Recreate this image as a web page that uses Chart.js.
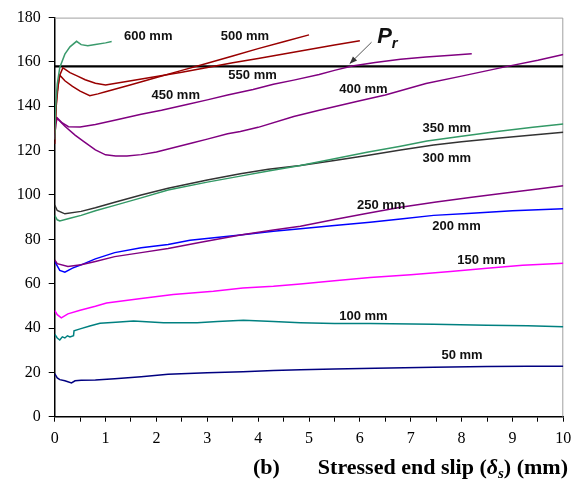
<!DOCTYPE html>
<html>
<head>
<meta charset="utf-8">
<script src="https://cdn.jsdelivr.net/npm/chart.js@4"></script>
<style>
  html, body { margin: 0; padding: 0; background: #ffffff; }
  canvas { display: block; }
</style>
</head>
<body>
<canvas id="c" width="580" height="495"></canvas>
<script>
// ---- data ----
const s600x = [0, 0.02, 0.05, 0.1, 0.2, 0.3, 0.43, 0.52, 0.65, 0.8, 1.0, 1.12];
const s600y = [125, 140, 150, 157.5, 163.5, 166.8, 169.3, 167.8, 167.3, 167.9, 168.6, 169.2];

const s550x = [0, 0.04, 0.1, 0.16, 0.2, 0.3, 0.45, 0.6, 0.8, 1.0, 1.5, 2.0, 2.5, 3.0, 3.5, 4.0, 4.5, 5.0, 5.5, 6.0];
const s550y = [128, 145, 154, 157.3, 156.8, 155.2, 153.6, 152.0, 150.4, 149.6, 151.5, 153.4, 155.4, 157.5, 159.6, 161.6, 163.6, 165.6, 167.6, 169.6];

const s500x = [0, 0.03, 0.07, 0.1, 0.2, 0.35, 0.5, 0.69, 0.85, 1.0, 1.5, 2.0, 2.5, 3.0, 3.5, 4.0, 4.5, 5.0];
const s500y = [123, 140, 150, 154, 151.5, 149, 146.8, 144.8, 145.6, 146.6, 149.7, 153, 156.2, 159.4, 162.7, 166, 169.1, 172.2];

const s450x = [0, 0.02, 0.05, 0.15, 0.27, 0.5, 0.8, 1.2, 1.7, 2.1, 2.6, 3.0, 3.4, 3.9, 4.3, 4.7, 5.2, 5.5, 5.85, 6.3, 6.8, 7.3, 7.8, 8.2];
const s450y = [125, 132, 134.7, 132.5, 130.8, 130.7, 131.8, 133.8, 136.4, 138.2, 140.8, 142.9, 145.1, 147.6, 149.9, 151.8, 154.3, 156.2, 158.2, 159.8, 161.2, 162.2, 163, 163.7];

const s400x = [0, 0.02, 0.04, 0.2, 0.4, 0.56, 0.8, 1.0, 1.2, 1.42, 1.7, 2.0, 2.33, 2.7, 3.0, 3.4, 3.65, 4.0, 4.7, 5.2, 6.0, 6.5, 7.3, 8.0, 8.9, 9.5, 10];
const s400y = [126, 132, 134.7, 131, 127, 124.3, 120.3, 118.1, 117.6, 117.6, 118.2, 119.4, 121.3, 123.4, 125.2, 127.6, 128.6, 130.5, 135.4, 138.2, 142.5, 145.1, 150.3, 153.6, 158, 160.8, 163.4];

const s350x = [0, 0.05, 0.1, 0.3, 0.52, 0.8, 1.18, 1.7, 2.23, 3.0, 3.65, 4.2, 4.83, 5.5, 6.14, 6.8, 7.32, 8.0, 8.7, 9.4, 10];
const s350y = [90.8, 88.8, 88.3, 89.5, 90.8, 92.9, 95.3, 98.7, 102.2, 105.8, 108.5, 110.8, 113.3, 116.3, 119.3, 122, 124.3, 126.5, 128.6, 130.5, 132];

const s300x = [0, 0.05, 0.2, 0.52, 0.8, 1.18, 1.7, 2.23, 3.0, 3.65, 4.2, 4.83, 5.5, 6.14, 6.8, 7.45, 8.0, 8.7, 9.4, 10];
const s300y = [95.5, 93, 91.5, 92.6, 94.2, 96.7, 100, 103, 106.8, 109.6, 111.6, 113.3, 115.6, 117.8, 120.3, 122.5, 124, 125.6, 127, 128.3];

const s250x = [0, 0.05, 0.26, 0.52, 0.8, 1.18, 1.7, 2.23, 2.9, 3.65, 4.3, 4.83, 5.5, 6.1, 6.8, 7.5, 8.2, 8.9, 9.5, 10];
const s250y = [70.7, 69, 67.7, 68.5, 70, 72.2, 74, 75.9, 78.8, 81.9, 84.2, 85.9, 88.9, 91.5, 94.5, 96.8, 99, 101, 102.7, 104.2];

const s200x = [0, 0.05, 0.1, 0.2, 0.35, 0.52, 0.8, 1.18, 1.7, 2.23, 2.66, 3.65, 4.3, 4.83, 5.5, 6.2, 6.8, 7.45, 8.2, 9, 10];
const s200y = [70, 68, 66, 65.2, 67, 68.5, 71.2, 74, 76.2, 77.7, 79.6, 81.9, 83.6, 84.8, 86.2, 87.7, 89.2, 90.8, 91.8, 92.9, 93.8];

const s150x = [0, 0.05, 0.13, 0.26, 0.5, 0.8, 1.02, 1.7, 2.33, 3.12, 3.7, 4.3, 4.83, 5.5, 6.2, 7.0, 7.78, 8.5, 9.2, 10];
const s150y = [47.9, 46, 44.6, 46.4, 48, 49.8, 51.3, 53.3, 55.1, 56.6, 58, 58.8, 59.8, 61.3, 62.8, 64, 65.5, 67, 68.3, 69.2];

const s100x = [0, 0.05, 0.1, 0.15, 0.2, 0.25, 0.3, 0.37, 0.38, 0.5, 0.69, 0.89, 1.2, 1.55, 2.14, 2.8, 3.2, 3.71, 4.3, 4.83, 5.5, 6.2, 7.45, 8.5, 9.3, 10];
const s100y = [37.2, 35.5, 34.6, 36, 35.5, 36.5, 36, 36.5, 38.7, 39.6, 40.9, 42.1, 42.6, 43.2, 42.4, 42.4, 42.9, 43.5, 42.9, 42.4, 42, 42, 41.7, 41.3, 41, 40.6];

const s50x = [0, 0.05, 0.1, 0.2, 0.33, 0.4, 0.52, 0.8, 1.18, 1.7, 2.23, 3.0, 3.7, 4.3, 4.83, 5.5, 6.3, 7.45, 8.5, 9.3, 10];
const s50y = [19.4, 17.5, 16.7, 16.2, 15.2, 16.2, 16.4, 16.6, 17.1, 18, 19.1, 19.8, 20.3, 20.8, 21.2, 21.5, 21.9, 22.3, 22.6, 22.8, 22.8];

const prX = [0, 10];
const prY = [158, 158];

const seriesNames = ['600 mm', '550 mm', '500 mm', '450 mm', '400 mm', '350 mm', '300 mm', '250 mm', '200 mm', '150 mm', '100 mm', '50 mm'];
const seriesX = [s600x, s550x, s500x, s450x, s400x, s350x, s300x, s250x, s200x, s150x, s100x, s50x];
const seriesY = [s600y, s550y, s500y, s450y, s400y, s350y, s300y, s250y, s200y, s150y, s100y, s50y];
const seriesColors = ['#3a9a6c', '#990000', '#990000', '#800080', '#800080', '#339966', '#333333', '#800080', '#0000ff', '#ff00ff', '#008080', '#000080'];

const yTicks = [0, 20, 40, 60, 80, 100, 120, 140, 160, 180];
const xTicks = [0, 1, 2, 3, 4, 5, 6, 7, 8, 9, 10];

// label anchors (data coords, centre of text)
const labelText = ['600 mm', '500 mm', '550 mm', '450 mm', '400 mm', '350 mm', '300 mm', '250 mm', '200 mm', '150 mm', '100 mm', '50 mm'];
const labelX = [1.84, 3.74, 3.89, 2.38, 6.07, 7.71, 7.71, 6.42, 7.9, 8.39, 6.07, 8.01];
const labelY = [171.7, 171.7, 154, 144.8, 147.6, 129.9, 116.4, 95.3, 85.6, 70.3, 45.4, 27.5];

const datasets = seriesNames.map((n, i) => ({
  label: n,
  data: seriesX[i].map((x, j) => ({ x: x, y: seriesY[i][j] })),
  borderColor: seriesColors[i],
  backgroundColor: seriesColors[i],
  borderWidth: 1.5,
  pointRadius: 0,
  showLine: true,
  tension: 0,
  fill: false
}));
datasets.push({
  label: 'Pr',
  data: prX.map((x, j) => ({ x: x, y: prY[j] })),
  borderColor: '#000000',
  borderWidth: 2.2,
  pointRadius: 0,
  showLine: true,
  fill: false
});

const decor = {
  id: 'decor',
  beforeDatasetsDraw(chart) {
    const { ctx, chartArea: a } = chart;
    ctx.save();
    ctx.strokeStyle = '#a0a0a0';
    ctx.lineWidth = 1;
    ctx.beginPath();
    ctx.moveTo(a.left, a.top + 0.5);
    ctx.lineTo(a.right - 0.5, a.top + 0.5);
    ctx.lineTo(a.right - 0.5, a.bottom);
    ctx.stroke();
    ctx.restore();
  },
  afterDatasetsDraw(chart) {
    const { ctx, scales: { x, y } } = chart;
    ctx.save();
    ctx.fillStyle = '#111';
    ctx.font = 'bold 13px "Liberation Sans", Arial, sans-serif';
    ctx.textAlign = 'center';
    ctx.textBaseline = 'middle';
    labelText.forEach((t, i) => {
      ctx.fillText(t, x.getPixelForValue(labelX[i]), y.getPixelForValue(labelY[i]));
    });
    // P_r annotation
    ctx.textAlign = 'left';
    ctx.textBaseline = 'alphabetic';
    ctx.font = 'italic bold 22px "Liberation Sans", Arial, sans-serif';
    const px = x.getPixelForValue(6.34), py = y.getPixelForValue(168.4);
    ctx.fillText('P', px, py);
    const pw = ctx.measureText('P').width;
    ctx.font = 'italic bold 15px "Liberation Sans", Arial, sans-serif';
    ctx.fillText('r', px + pw, py + 5);
    // arrow
    const x1 = x.getPixelForValue(6.23), y1 = y.getPixelForValue(168.9);
    const x2 = x.getPixelForValue(5.8), y2 = y.getPixelForValue(159.2);
    ctx.strokeStyle = '#555';
    ctx.fillStyle = '#333';
    ctx.lineWidth = 1;
    ctx.beginPath();
    ctx.moveTo(x1, y1);
    ctx.lineTo(x2, y2);
    ctx.stroke();
    const ang = Math.atan2(y2 - y1, x2 - x1);
    ctx.beginPath();
    ctx.moveTo(x2, y2);
    ctx.lineTo(x2 - 8 * Math.cos(ang - 0.38), y2 - 8 * Math.sin(ang - 0.38));
    ctx.lineTo(x2 - 8 * Math.cos(ang + 0.38), y2 - 8 * Math.sin(ang + 0.38));
    ctx.closePath();
    ctx.fill();
    ctx.restore();
  },
  afterDraw(chart) {
    const { ctx } = chart;
    ctx.save();
    ctx.fillStyle = '#000';
    ctx.textBaseline = 'alphabetic';
    const base = 474;
    const fN = 'bold 22px "Liberation Serif", "Times New Roman", serif';
    const fI = 'italic bold 22px "Liberation Serif", "Times New Roman", serif';
    const fS = 'italic bold 15px "Liberation Serif", "Times New Roman", serif';
    const parts = [
      ['Stressed end slip (', fN, 0],
      ['\u03B4', fI, 0],
      ['s', fS, 4],
      [') (mm)', fN, 0]
    ];
    let w = 0;
    parts.forEach(p => { ctx.font = p[1]; w += ctx.measureText(p[0]).width; });
    let cx = 568 - w;
    parts.forEach(p => { ctx.font = p[1]; ctx.fillText(p[0], cx, base + p[2]); cx += ctx.measureText(p[0]).width; });
    ctx.font = fN;
    ctx.fillText('(b)', 253, base);
    ctx.restore();
  }
};

new Chart(document.getElementById('c'), {
  type: 'scatter',
  data: { datasets: datasets },
  options: {
    responsive: false,
    animation: false,
    devicePixelRatio: 1,
    layout: { padding: { left: 0, right: 16.7, top: 13.5, bottom: 0 } },
    plugins: { legend: { display: false }, tooltip: { enabled: false }, title: { display: false } },
    scales: {
      x: {
        type: 'linear',
        min: 0, max: 10,
        afterBuildTicks: (s) => {
          const t = [];
          for (let i = 0; i < xTicks.length; i++) {
            t.push({ value: xTicks[i] });
            if (i < xTicks.length - 1) t.push({ value: xTicks[i] + 0.5 });
          }
          s.ticks = t;
        },
        ticks: {
          autoSkip: false, maxRotation: 0, color: '#000', padding: 7,
          font: { family: '"Liberation Serif", "Times New Roman", serif', size: 16 },
          callback: (v) => Number.isInteger(v) ? String(v) : ''
        },
        grid: { drawOnChartArea: false, drawTicks: true, tickLength: 5, color: '#000', tickWidth: 1 },
        border: { color: '#000', width: 1.5 },
        afterFit: (s) => { s.height = 78.3; }
      },
      y: {
        type: 'linear',
        min: 0, max: 180,
        afterBuildTicks: (s) => { s.ticks = yTicks.map(v => ({ value: v })); },
        ticks: {
          color: '#000', padding: 8,
          font: { family: '"Liberation Serif", "Times New Roman", serif', size: 16 }
        },
        grid: { drawOnChartArea: false, drawTicks: true, tickLength: 6, color: '#000', tickWidth: 1 },
        border: { color: '#000', width: 1.5 },
        afterFit: (s) => { s.width = 54.7; }
      }
    }
  },
  plugins: [decor]
});
</script>
</body>
</html>
